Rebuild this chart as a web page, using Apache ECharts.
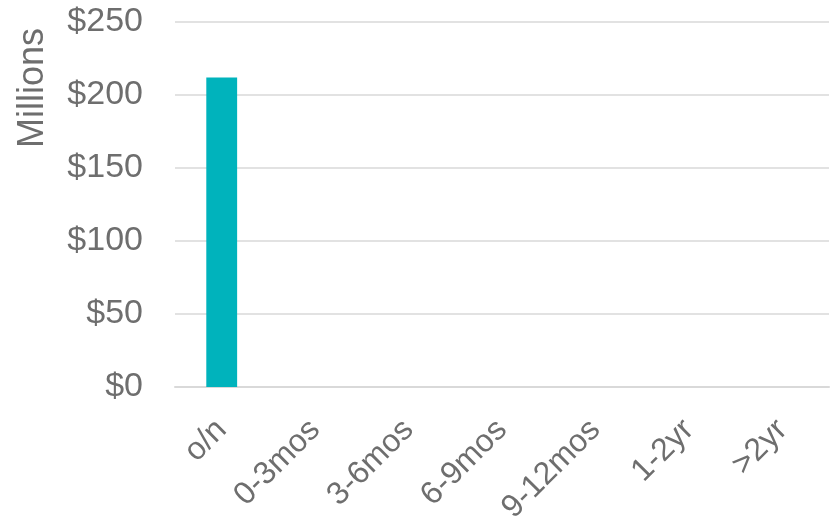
<!DOCTYPE html>
<html>
<head>
<meta charset="utf-8">
<script src="https://cdn.jsdelivr.net/npm/echarts@6/dist/echarts.min.js"></script>
<style>
  html, body { margin: 0; padding: 0; background: #fff; }
  #chart { width: 835px; height: 518px; }
</style>
</head>
<body>
<div id="chart"></div>
<script>
// maturity buckets and amounts (millions)
const categories = ['o/n', '0-3mos', '3-6mos', '6-9mos', '9-12mos', '1-2yr', '>2yr']
const amounts = [212, 0, 0, 0, 0, 0, 0]
const yTicks = [0, 50, 100, 150, 200, 250]

const textColor = '#6e6e6e'
const font = 'Liberation Sans'

const chart = echarts.init(document.getElementById('chart'))
chart.setOption({
  animation: false,
  grid: {
    left: 175, right: 6, top: 22, bottom: 131,
    containLabel: false,
    outerBoundsMode: 'none'
  },
  graphic: [{
    type: 'text',
    x: 33,
    y: 88,
    rotation: Math.PI / 2,
    style: {
      text: 'Millions',
      fill: textColor,
      font: '36px "Liberation Sans"',
      align: 'center',
      verticalAlign: 'middle'
    }
  }],
  xAxis: {
    type: 'category',
    data: categories,
    axisLine: { lineStyle: { color: '#d9d9d9', width: 2 } },
    axisTick: { show: false },
    axisLabel: {
      rotate: 45,
      interval: 0,
      margin: 38,
      color: textColor,
      fontFamily: font,
      fontSize: 32
    }
  },
  yAxis: {
    type: 'value',
    min: yTicks[0],
    max: yTicks[yTicks.length - 1],
    interval: 50,
    axisLine: { show: false },
    axisTick: { show: false },
    axisLabel: {
      margin: 32,
      color: textColor,
      fontFamily: font,
      fontSize: 34,
      formatter: v => '$' + v
    },
    splitLine: { lineStyle: { color: '#d9d9d9', width: 1.5 } }
  },
  series: [{
    type: 'bar',
    data: amounts,
    barWidth: '33%',
    itemStyle: { color: '#00b3bc' }
  }]
})
</script>
</body>
</html>
